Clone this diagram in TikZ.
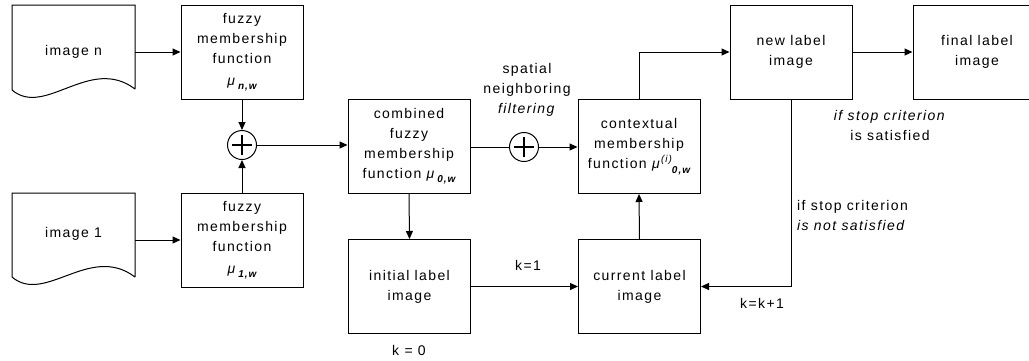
\documentclass[tikz,border=0pt]{standalone}
\usepackage{fontspec}
\setmainfont{Liberation Sans}[LetterSpace=10]
\usetikzlibrary{arrows.meta}
\newcommand{\subfnt}{\fontsize{10}{12}\selectfont\bfseries\itshape}
\newcommand{\musub}[1]{\textit{μ}\raisebox{-0.5ex}{\subfnt\,#1}}
\newcommand{\musupsub}[2]{\textit{μ}\raisebox{0.8ex}{\fontsize{10}{12}\selectfont\itshape #1}\raisebox{-0.6ex}{\subfnt #2}}
\begin{document}
\begin{tikzpicture}[x=1pt,y=-1pt,
  every node/.style={font=\fontsize{14}{20}\selectfont},
  box/.style={draw, line width=1pt, minimum width=122pt, minimum height=94pt, align=center, inner sep=2pt},
  docnode/.style={minimum width=123pt, minimum height=10pt, inner sep=0pt},
  sumnode/.style={draw, circle, line width=1pt, minimum size=29pt, inner sep=0pt},
  lbl/.style={align=center, inner sep=1pt},
  conn/.style={line width=1pt},
  arr/.style={conn, -{Triangle[length=8pt,width=7pt]}},
  plusbar/.style={line width=2.8pt}
]
\clip (0,0) rectangle (1029,360);
\fill[white] (0,0) rectangle (1029,360);

% document shapes
\draw[conn] (135,89) -- (135,5) -- (12,5) -- (12,90) .. controls (45,118) and (90,55) .. (135,89);
\draw[conn] (135,277) -- (135,193) -- (12,193) -- (12,277) .. controls (45,305) and (90,243) .. (135,277);
\node[docnode] (imgn) at (73.5,52) {image n};
\node[docnode] (img1) at (73.5,234) {image 1};

% boxes
\node[box] (fn) at (242,52) {fuzzy\\membership\\function\\[2pt]\musub{n,w}};
\node[box] (f1) at (242,240) {fuzzy\\membership\\function\\[2pt]\musub{1,w}};
\node[box] (comb) at (409,146.5) {combined\\fuzzy\\membership\\function \musub{0,w}};
\node[box] (ctx) at (639,146.5) {contextual\\membership\\function \musupsub{(i)}{0,w}};
\node[box] (init) at (409.5,286.5) {initial label\\image};
\node[box] (cur) at (639.5,286.5) {current label\\image};
\node[box] (new) at (791,52) {new label\\image};
\node[box, minimum width=128pt] (fin) at (977,52) {final label\\image};

% summing junctions
\node[sumnode] (s1) at (242,145) {};
\draw[plusbar] ([xshift=-10pt]s1.center) -- ([xshift=10pt]s1.center);
\draw[plusbar] ([yshift=-10pt]s1.center) -- ([yshift=10pt]s1.center);
\node[sumnode] (s2) at (524,147) {};
\draw[plusbar] ([xshift=-10pt]s2.center) -- ([xshift=10pt]s2.center);
\draw[plusbar] ([yshift=-10pt]s2.center) -- ([yshift=10pt]s2.center);

% connectors
\draw[arr] (imgn.east) -- (fn.west);
\draw[arr] (img1.east |- f1.west) -- (f1.west);
\draw[arr] (fn.south) -- (s1.north);
\draw[arr] (f1.north) -- (s1.south);
\draw[arr] (s1.east) -- (s1.east -| comb.west);
\draw[conn] (comb.east |- s2.west) -- (s2.west);
\draw[arr] (s2.east) -- (s2.east -| ctx.west);
\draw[arr] (comb.south) -- (init.north);
\draw[arr] (init.east) -- (cur.west);
\draw[arr] (cur.north) -- (ctx.south);
\draw[arr] (ctx.north) |- (new.west);
\draw[arr] (new.east) -- (fin.west);
\draw[arr] (new.south) |- (cur.east);

% labels
\node[lbl] (lspat) at (527,90) {spatial\\neighboring\\\textit{filtering}};
\node[lbl] (lk0) at (409,350) {k = 0};
\node[lbl] (lk1) at (528,265) {k=1};
\node[lbl] (lkk) at (762,303) {k=k+1};
\node[lbl] (lsat) at (890,125) {\textit{if stop criterion}\\is satisfied};
\node[lbl, align=left, anchor=west] (lnot) at (796,215) {if stop criterion\\\textit{is not satisfied}};
\end{tikzpicture}
\end{document}
